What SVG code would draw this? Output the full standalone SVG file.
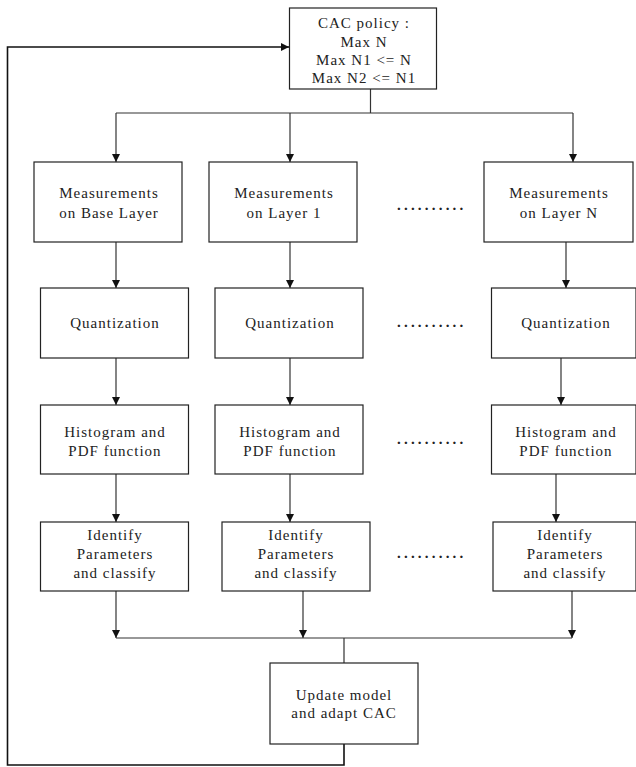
<svg xmlns="http://www.w3.org/2000/svg" width="636" height="767" viewBox="0 0 636 767">
<defs>
<marker id="ah" viewBox="0 0 8 8" refX="8" refY="4" markerWidth="8" markerHeight="8" markerUnits="userSpaceOnUse" orient="auto">
<path d="M0,0 L8,4 L0,8 z" fill="#111"/>
</marker>
<style>
.box{fill:#fff;stroke:#222;stroke-width:1.2}
.t{font-family:"Liberation Serif","Times New Roman",serif;font-size:15px;letter-spacing:1px;fill:#222;text-anchor:middle}
.d{font-family:"Liberation Serif","Times New Roman",serif;font-size:15px;letter-spacing:3.2px;fill:#222;font-weight:bold}
.c{fill:none;stroke:#333;stroke-width:1.2}
.fb{fill:none;stroke:#111;stroke-width:1.6}
</style>
</defs>
<rect width="636" height="767" fill="#fff"/>
<g id="connectors">
<path class="fb" d="M344,744 V765 H7.5 V47 H289" marker-end="url(#ah)"/>
<path class="c" d="M370.5,89 V113 M116,113 H573"/>
<path class="c" d="M116,113 V162" marker-end="url(#ah)"/>
<path class="c" d="M290,113 V162" marker-end="url(#ah)"/>
<path class="c" d="M573,113 V162" marker-end="url(#ah)"/>
<path class="c" d="M116,242 V288" marker-end="url(#ah)"/>
<path class="c" d="M290,242 V288" marker-end="url(#ah)"/>
<path class="c" d="M566,242 V288" marker-end="url(#ah)"/>
<path class="c" d="M116,358 V405" marker-end="url(#ah)"/>
<path class="c" d="M290,358 V405" marker-end="url(#ah)"/>
<path class="c" d="M561,358 V405" marker-end="url(#ah)"/>
<path class="c" d="M116,474 V522" marker-end="url(#ah)"/>
<path class="c" d="M290,474 V522" marker-end="url(#ah)"/>
<path class="c" d="M556,474 V522" marker-end="url(#ah)"/>
<path class="c" d="M116,591 V638" marker-end="url(#ah)"/>
<path class="c" d="M303,591 V638" marker-end="url(#ah)"/>
<path class="c" d="M572,591 V638" marker-end="url(#ah)"/>
<path class="c" d="M116,638 H572 M344,638 V663"/>
</g>
<g id="cac">
<rect class="box" x="289.5" y="8" width="147" height="81"/>
<text class="t" x="364" y="28">CAC policy :</text>
<text class="t" x="364" y="46.5">Max N</text>
<text class="t" x="364" y="65">Max N1 &lt;= N</text>
<text class="t" x="364" y="82.5">Max N2 &lt;= N1</text>
</g>
<g id="meas0">
<rect class="box" x="34" y="162" width="148" height="80"/>
<text class="t" x="109" y="198">Measurements</text>
<text class="t" x="109" y="218">on Base Layer</text>
</g>
<g id="meas1">
<rect class="box" x="209" y="162" width="148" height="80"/>
<text class="t" x="284" y="198">Measurements</text>
<text class="t" x="284" y="218">on Layer 1</text>
</g>
<g id="measN">
<rect class="box" x="484" y="162" width="149" height="80"/>
<text class="t" x="559" y="198">Measurements</text>
<text class="t" x="559" y="218">on Layer N</text>
</g>
<g id="quant0">
<rect class="box" x="40.5" y="288" width="148" height="70"/>
<text class="t" x="115" y="328">Quantization</text>
</g>
<g id="quant1">
<rect class="box" x="215" y="288" width="148" height="70"/>
<text class="t" x="290" y="328">Quantization</text>
</g>
<g id="quantN">
<rect class="box" x="491.5" y="288" width="144.5" height="70"/>
<text class="t" x="566" y="328">Quantization</text>
</g>
<g id="hist0">
<rect class="box" x="40.5" y="405" width="148" height="69"/>
<text class="t" x="115" y="437">Histogram and</text>
<text class="t" x="115" y="456">PDF function</text>
</g>
<g id="hist1">
<rect class="box" x="215" y="405" width="148" height="69"/>
<text class="t" x="290" y="437">Histogram and</text>
<text class="t" x="290" y="456">PDF function</text>
</g>
<g id="histN">
<rect class="box" x="491.5" y="405" width="144.5" height="69"/>
<text class="t" x="566" y="437">Histogram and</text>
<text class="t" x="566" y="456">PDF function</text>
</g>
<g id="ident0">
<rect class="box" x="40.5" y="522" width="148" height="69"/>
<text class="t" x="115" y="540">Identify</text>
<text class="t" x="115" y="559">Parameters</text>
<text class="t" x="115" y="578">and classify</text>
</g>
<g id="ident1">
<rect class="box" x="222" y="522" width="148" height="69"/>
<text class="t" x="296" y="540">Identify</text>
<text class="t" x="296" y="559">Parameters</text>
<text class="t" x="296" y="578">and classify</text>
</g>
<g id="identN">
<rect class="box" x="493" y="522" width="143" height="69"/>
<text class="t" x="565" y="540">Identify</text>
<text class="t" x="565" y="559">Parameters</text>
<text class="t" x="565" y="578">and classify</text>
</g>
<g id="update">
<rect class="box" x="270" y="663" width="148" height="81"/>
<text class="t" x="344" y="700">Update model</text>
<text class="t" x="344" y="718">and adapt CAC</text>
</g>
<g id="dots">
<text class="d" x="397" y="210">..........</text>
<text class="d" x="397" y="327">..........</text>
<text class="d" x="397" y="444">..........</text>
<text class="d" x="397" y="558">..........</text>
</g>
</svg>
